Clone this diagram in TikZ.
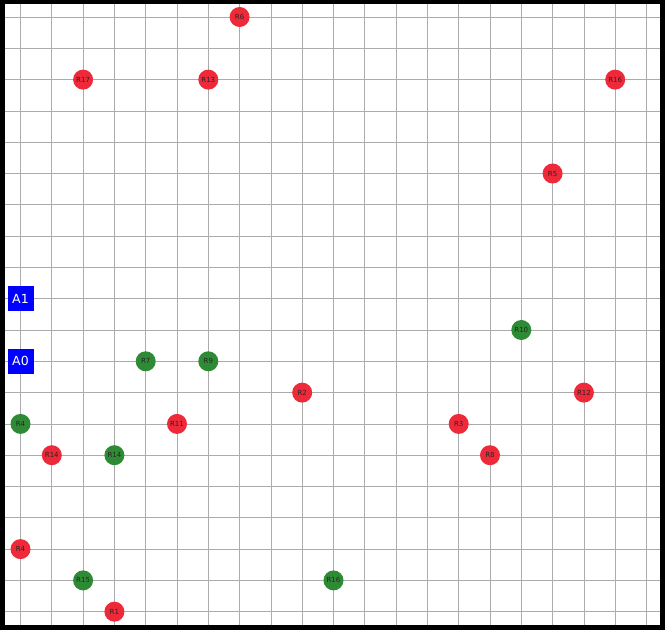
\documentclass[tikz,border=0pt]{standalone}
\usepackage{fontspec}
\setmainfont{DejaVu Sans}
\begin{document}
\begin{tikzpicture}[x=1pt,y=-1pt,
  gridline/.style={draw=black!33, line width=0.8pt},
  robot/.style={circle, minimum size=20pt, inner sep=0pt, text=black!85,
     font=\fontsize{7}{7}\selectfont},
  redbot/.style={robot, fill=redc},
  greenbot/.style={robot, fill=greenc},
  anchorbox/.style={rectangle, fill=blue, text=white, minimum width=26pt,
     minimum height=25pt, inner sep=0pt, font=\fontsize{12.5}{12.5}\selectfont}]
\definecolor{redc}{HTML}{EE2A3A}
\definecolor{greenc}{HTML}{2F8A35}
\useasboundingbox (0,0) rectangle (665,630);
\fill[black] (0,0) rectangle (665,630);
\fill[white] (5,4) rectangle (660,625);
\begin{scope}[shift={(20.5,17)}, x=31.3pt, y=-31.3pt]
  \foreach \i in {0,...,20} \draw[gridline] (\i,-0.415) -- (\i,19.42);
  \foreach \j in {0,...,19} \draw[gridline] (-0.495,\j) -- (20.43,\j);
  % anchors
  \node[anchorbox] (a1) at (0,9) {A1};
  \node[anchorbox] (a0) at (0,11) {A0};
  % red robots
  \node[redbot] (r6) at (7,0) {R6};
  \node[redbot] (r17) at (2,2) {R17};
  \node[redbot] (r13) at (6,2) {R13};
  \node[redbot] (r16r) at (19,2) {R16};
  \node[redbot] (r5) at (17,5) {R5};
  \node[redbot] (r2) at (9,12) {R2};
  \node[redbot] (r12) at (18,12) {R12};
  \node[redbot] (r11) at (5,13) {R11};
  \node[redbot] (r3) at (14,13) {R3};
  \node[redbot] (r14r) at (1,14) {R14};
  \node[redbot] (r8) at (15,14) {R8};
  \node[redbot] (r4r) at (0,17) {R4};
  \node[redbot] (r1) at (3,19) {R1};
  % green robots
  \node[greenbot] (r10) at (16,10) {R10};
  \node[greenbot] (r7) at (4,11) {R7};
  \node[greenbot] (r9) at (6,11) {R9};
  \node[greenbot] (r4g) at (0,13) {R4};
  \node[greenbot] (r14g) at (3,14) {R14};
  \node[greenbot] (r15) at (2,18) {R15};
  \node[greenbot] (r16g) at (10,18) {R16};
\end{scope}
\end{tikzpicture}
\end{document}
